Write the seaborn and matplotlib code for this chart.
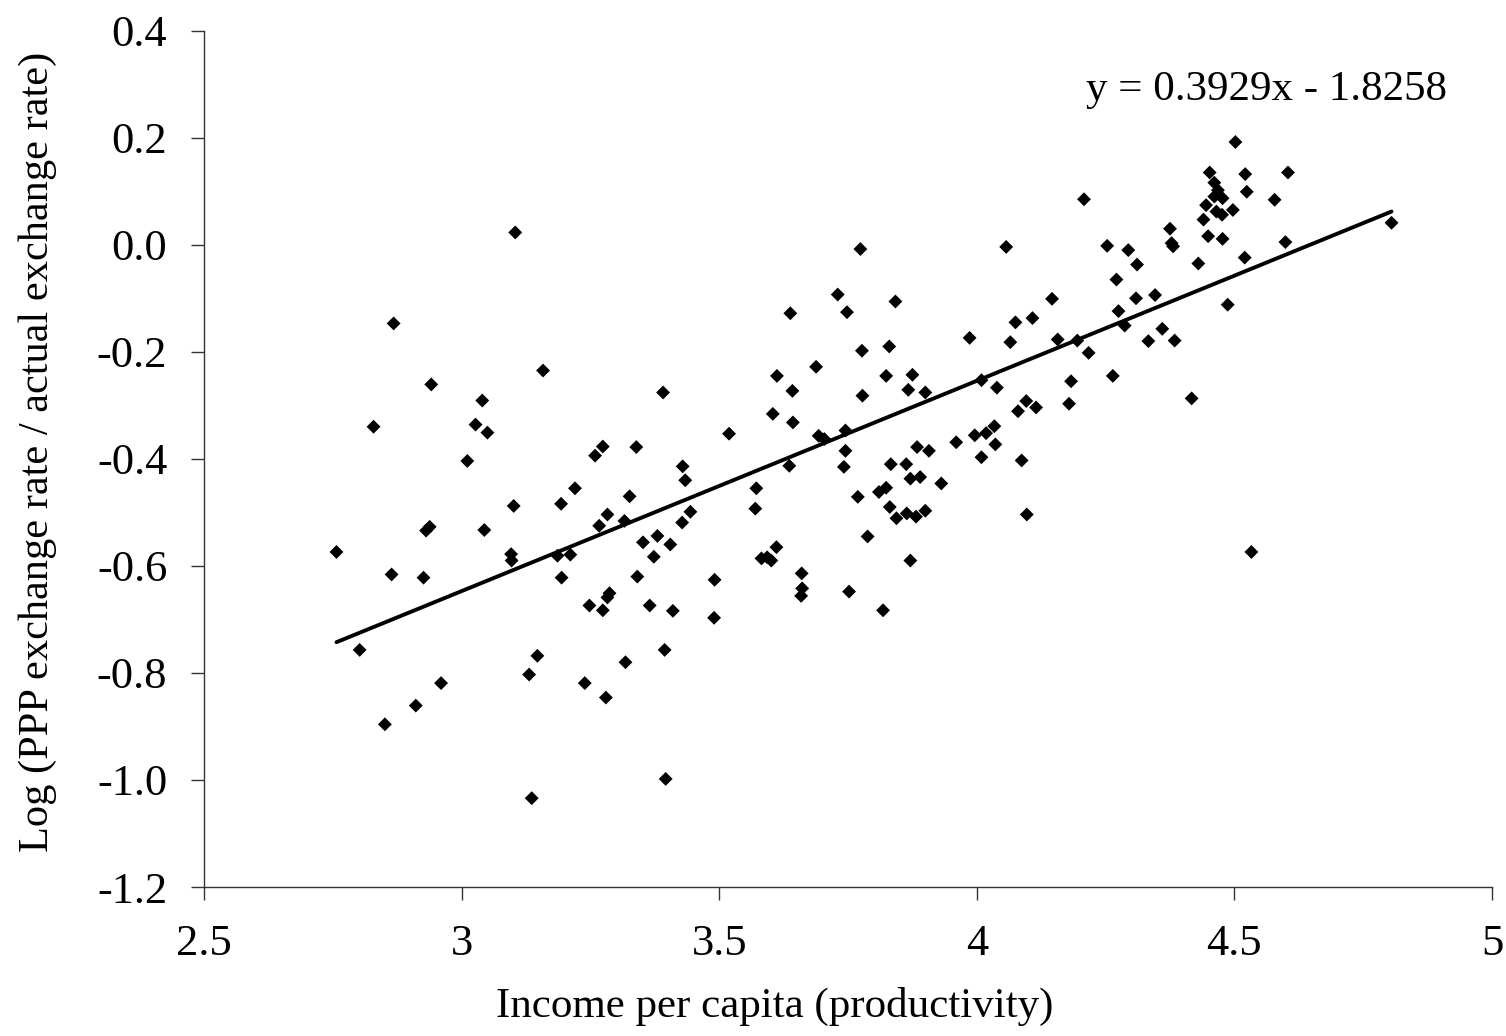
import numpy as np
import pandas as pd
import matplotlib
matplotlib.use("Agg")
import matplotlib.pyplot as plt
import seaborn as sns

# ---- data ----
income = [
    3.104, 2.868, 3.638, 3.730, 3.748, 3.774, 4.208, 4.057, 4.253, 4.271,
    3.842, 4.146, 4.108, 4.075, 4.275, 3.986, 4.065, 4.157, 4.195, 3.777,
    3.830, 4.217, 4.502, 4.452, 4.521, 4.604, 4.461, 4.468, 4.524, 4.461,
    4.477, 4.578, 4.445, 4.465, 4.476, 4.497, 4.440, 4.375, 4.378, 4.381,
    4.449, 4.477, 4.599, 4.294, 4.311, 4.430, 4.520, 4.309, 4.346, 4.287,
    4.360, 4.487, 4.333, 4.384, 4.417, 4.533, 4.805, 3.824, 3.875, 4.009,
    4.183, 4.264, 3.778, 3.867, 3.900, 4.039, 4.096, 4.080, 4.115, 4.179,
    3.745, 3.745, 3.742, 4.034, 4.018, 3.996, 3.960, 4.036, 4.009, 4.087,
    3.884, 3.907, 3.833, 3.863, 3.871, 3.890, 3.931, 3.824, 3.810, 3.769,
    3.831, 3.844, 3.864, 3.882, 3.900, 4.097, 3.788, 3.871, 3.391, 3.612,
    3.688, 3.642, 3.604, 3.643, 3.519, 3.693, 3.704, 3.274, 3.259, 3.339,
    3.429, 3.434, 3.636, 3.326, 3.572, 3.570, 3.283, 3.267, 3.316, 3.444,
    3.428, 3.352, 3.380, 3.405, 3.373, 3.611, 3.582, 3.593, 3.601, 3.341,
    3.491, 3.660, 3.158, 2.941, 3.040, 2.829, 3.027, 3.050, 3.011, 3.220,
    3.101, 3.193, 2.938, 2.931, 3.044, 2.757, 3.096, 3.097, 3.186, 3.211,
    2.864, 2.926, 3.194, 3.287, 3.283, 3.248, 3.274, 3.365, 3.410, 3.490,
    3.661, 3.659, 3.752, 3.394, 3.318, 3.239, 3.280, 3.396, 2.802, 3.147,
    3.131, 2.960, 2.911, 2.851, 3.136, 3.818,
]
log_ratio = [
    0.023, -0.147, -0.128, -0.093, -0.126, -0.008, 0.085, -0.004, -0.002, -0.065,
    -0.106, -0.101, -0.137, -0.145, -0.124, -0.174, -0.182, -0.177, -0.179, -0.198,
    -0.190, -0.202, 0.192, 0.135, 0.132, 0.135, 0.116, 0.102, 0.099, 0.090,
    0.087, 0.084, 0.074, 0.062, 0.056, 0.065, 0.047, 0.030, 0.003, -0.003,
    0.016, 0.011, 0.005, -0.010, -0.037, -0.035, -0.024, -0.100, -0.094, -0.151,
    -0.157, -0.112, -0.180, -0.179, -0.287, -0.574, 0.041, -0.245, -0.243, -0.253,
    -0.255, -0.245, -0.282, -0.271, -0.276, -0.267, -0.292, -0.311, -0.304, -0.297,
    -0.347, -0.385, -0.415, -0.339, -0.352, -0.356, -0.369, -0.373, -0.397, -0.403,
    -0.378, -0.385, -0.410, -0.410, -0.437, -0.434, -0.446, -0.454, -0.462, -0.471,
    -0.490, -0.511, -0.502, -0.508, -0.497, -0.504, -0.545, -0.590, -0.276, -0.245,
    -0.228, -0.273, -0.316, -0.332, -0.353, -0.357, -0.363, -0.377, -0.394, -0.378,
    -0.414, -0.440, -0.413, -0.470, -0.455, -0.493, -0.504, -0.525, -0.516, -0.499,
    -0.519, -0.556, -0.544, -0.560, -0.583, -0.565, -0.586, -0.584, -0.590, -0.620,
    -0.626, -0.614, -0.235, -0.261, -0.291, -0.340, -0.336, -0.351, -0.404, -0.455,
    -0.488, -0.484, -0.527, -0.534, -0.533, -0.574, -0.578, -0.590, -0.581, -0.579,
    -0.616, -0.622, -0.622, -0.651, -0.659, -0.674, -0.683, -0.674, -0.684, -0.697,
    -0.642, -0.656, -0.648, -0.757, -0.780, -0.819, -0.846, -0.998, -0.757, -0.768,
    -0.803, -0.819, -0.861, -0.896, -1.034, -0.683,
]
slope = 0.3929
intercept = -1.8258
equation_label = "y = 0.3929x - 1.8258"

x_ticks = [2.5, 3.0, 3.5, 4.0, 4.5, 5.0]
x_tick_labels = ["2.5", "3", "3.5", "4", "4.5", "5"]
y_ticks = [0.4, 0.2, 0.0, -0.2, -0.4, -0.6, -0.8, -1.0, -1.2]
y_tick_labels = ["0.4", "0.2", "0.0", "-0.2", "-0.4", "-0.6", "-0.8", "-1.0", "-1.2"]
x_title = "Income per capita (productivity)"
y_title = "Log (PPP exchange rate / actual exchange rate)"

# ---- styling ----
sns.set_style("ticks")
plt.rcParams["font.family"] = ["Liberation Serif", "DejaVu Serif"]

fig = plt.figure(figsize=(15.06, 10.36), dpi=100)
fig.patch.set_facecolor("white")
ax = fig.add_axes([0.1355, 0.1438, 0.8552, 0.8266])
ax.set_facecolor("white")

df = pd.DataFrame({"income": income, "log_ratio": log_ratio})
sns.scatterplot(data=df, x="income", y="log_ratio", marker="D", s=50,
                color="black", edgecolor="none", linewidth=0, ax=ax, zorder=3)

line_x = np.array([min(income), max(income)])
trend = pd.DataFrame({"income": line_x, "log_ratio": slope * line_x + intercept})
sns.lineplot(data=trend, x="income", y="log_ratio", color="black",
             linewidth=2.8, ax=ax, zorder=4)

ax.set_xlim(2.5, 5.0)
ax.set_ylim(-1.2, 0.4)
ax.set_xticks(x_ticks)
ax.set_xticklabels(x_tick_labels)
ax.set_yticks(y_ticks)
ax.set_yticklabels(y_tick_labels)

for side in ["top", "right"]:
    ax.spines[side].set_visible(False)
for side in ["left", "bottom"]:
    ax.spines[side].set_color("#333333")
    ax.spines[side].set_linewidth(1.0)

ax.tick_params(axis="both", direction="out", length=9.5, width=1.0,
               color="#333333", labelsize=32, labelcolor="black", pad=17)

ax.set_xlabel(x_title, fontsize=31, color="black")
ax.set_ylabel(y_title, fontsize=30.5, color="black")
ax.xaxis.set_label_coords(0.443, -0.117)
ax.yaxis.set_label_coords(-0.114, 0.508)

ax.text(0.825, 0.931, equation_label, transform=ax.transAxes,
        ha="center", va="center", fontsize=31, color="black")

fig.savefig("out.png", dpi=100, facecolor="white")
